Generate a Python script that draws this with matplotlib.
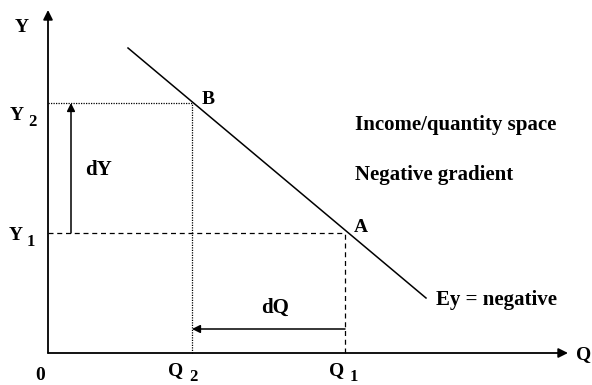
import matplotlib
matplotlib.use("Agg")
import matplotlib.pyplot as plt

# Values in diagram units (origin at axes crossing)
q_levels = [297, 144]          # Q1, Q2
y_levels = [120, 250]          # Y1, Y2
line_x = [80, 378]
line_y = [305, 55]
x_axis_end = 520
y_axis_end = 343
point_labels = ["A", "B"]
tick_q = ["Q", "Q"]
sub_q = ["1", "2"]
sub_y = ["1", "2"]
notes = ["Income/quantity space", "Negative gradient"]
curve_label = "Ey = negative"

fig = plt.figure(figsize=(5.92, 3.85), dpi=100)
ax = fig.add_axes([0, 0, 1, 1])
ax.set_xlim(-48, 544)
ax.set_ylim(-32, 353)
ax.axis("off")

FONT = "Liberation Serif"
fs = 15
fs_lab = 14
fs_sub = 12
kw = dict(family=FONT, fontweight="bold", color="black")

# axes
ax.annotate("", xy=(x_axis_end, 0), xytext=(0, 0),
            arrowprops=dict(arrowstyle="-|>", lw=1.3, color="black",
                            mutation_scale=14, shrinkA=0, shrinkB=0))
ax.annotate("", xy=(0, y_axis_end), xytext=(0, 0),
            arrowprops=dict(arrowstyle="-|>", lw=1.3, color="black",
                            mutation_scale=14, shrinkA=0, shrinkB=0))

# demand line
ax.plot(line_x, line_y, color="black", lw=1.1)

# guide lines
q1, q2 = q_levels
y1, y2 = y_levels
ax.plot([0, q2], [y2, y2], color="black", lw=0.9, ls=(0, (1, 1)))
ax.plot([q2, q2], [0, y2], color="black", lw=0.9, ls=(0, (1, 1)))
ax.plot([0, q1], [y1, y1], color="black", lw=0.9, ls=(0, (4, 3)))
ax.plot([q1, q1], [0, y1], color="black", lw=0.9, ls=(0, (4, 3)))

# dY and dQ arrows
ax.annotate("", xy=(23, y2), xytext=(23, y1),
            arrowprops=dict(arrowstyle="-|>", lw=1.1, color="black",
                            mutation_scale=12, shrinkA=0, shrinkB=0))
ax.annotate("", xy=(q2, 24), xytext=(q1, 24),
            arrowprops=dict(arrowstyle="-|>", lw=1.1, color="black",
                            mutation_scale=12, shrinkA=0, shrinkB=0))
ax.text(50, 183, "dY", fontsize=fs, ha="center", va="center", **kw)
ax.text(227, 45, "dQ", fontsize=fs, ha="center", va="center", **kw)

# axis labels
ax.text(-26, 325, "Y", fontsize=fs_lab, ha="center", va="center", **kw)
ax.text(536, -2, "Q", fontsize=fs_lab, ha="center", va="center", **kw)
ax.text(-8, -22, "0", fontsize=fs_lab, ha="center", va="center", **kw)

# Y labels: (Y left, Y centre, sub left, sub centre)
y_lab_pos = [(-39, 117, -21, 111), (-38, 238, -20, 231)]
for (xl, yc, xs, ys), s in zip(y_lab_pos, sub_y):
    ax.text(xl, yc, "Y", fontsize=fs_lab, ha="left", va="center", **kw)
    ax.text(xs, ys, s, fontsize=fs_sub, ha="left", va="center", **kw)
q_lab_pos = [(281, 302), (120, 141)]
for (xl, xs), t, s in zip(q_lab_pos, tick_q, sub_q):
    ax.text(xl, -18, t, fontsize=fs_lab, ha="left", va="center", **kw)
    ax.text(xs, -24, s, fontsize=fs_sub, ha="left", va="center", **kw)

# point labels
ax.text(q1 + 9, y1 + 5, point_labels[0], fontsize=fs_lab, ha="left", va="center", **kw)
ax.text(q2 + 10, y2 + 3, point_labels[1], fontsize=fs_lab, ha="left", va="center", **kw)

# notes
ax.text(307, 228, notes[0], fontsize=fs, ha="left", va="center", **kw)
ax.text(307, 178, notes[1], fontsize=fs, ha="left", va="center", **kw)
ax.text(388, 53, curve_label, fontsize=fs, ha="left", va="center", **kw)

fig.savefig("out.png", dpi=100)
